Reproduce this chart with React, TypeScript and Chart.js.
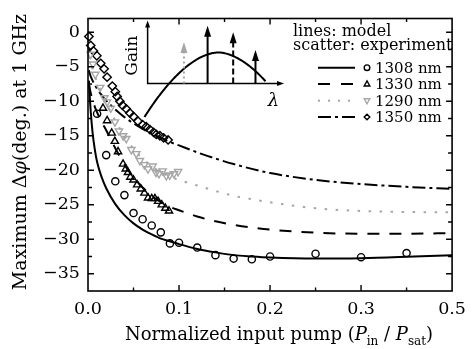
import React, { useEffect, useRef } from 'react';
import { Chart, registerables } from 'chart.js';
Chart.register(...registerables);

const FONT = "'DejaVu Serif', serif";

// x tick labels at 0, 0.1, 0.2, 0.3, 0.4 (axis positions) as printed in the figure
const xTickLabels = ['0.0', '0.1', '0.2', '0.3', '0.5'];
const yTickValues = [0, -5, -10, -15, -20, -25, -30, -35];

// Model curves (lines)
const modelX = [0.001, 0.002, 0.003, 0.005, 0.0075, 0.01, 0.015, 0.02, 0.03, 0.04, 0.05, 0.06, 0.07, 0.08, 0.09, 0.1, 0.12, 0.14, 0.16, 0.18, 0.2, 0.25, 0.3, 0.35, 0.4];
const model1308 = [-7.0, -9.5, -11.5, -14.5, -17.0, -18.8, -21.0, -22.6, -24.9, -26.5, -27.7, -28.6, -29.3, -29.9, -30.3, -30.7, -31.4, -31.9, -32.3, -32.5, -32.65, -32.8, -32.75, -32.55, -32.3];
const model1330 = [-7.5, -8.2, -8.8, -9.8, -10.8, -11.6, -13.0, -14.2, -16.8, -19.2, -21.0, -22.5, -23.7, -24.6, -25.3, -25.8, -26.7, -27.4, -27.9, -28.3, -28.6, -29.05, -29.2, -29.2, -29.1];
const model1290 = [-3.5, -4.0, -4.5, -5.3, -6.3, -7.2, -8.8, -10.2, -12.8, -15.0, -16.9, -18.3, -19.4, -20.3, -20.9, -21.4, -22.2, -23.0, -23.7, -24.2, -24.65, -25.5, -25.9, -26.05, -26.1];
const model1350 = [-5.5, -6.0, -6.4, -7.0, -7.6, -8.2, -9.1, -9.9, -11.2, -12.3, -13.2, -14.0, -14.7, -15.3, -15.9, -16.4, -17.4, -18.3, -19.1, -19.8, -20.4, -21.4, -22.0, -22.4, -22.7];

// Experiment (scatter)
const exp1308X = [0.01, 0.02, 0.03, 0.04, 0.05, 0.06, 0.07, 0.08, 0.09, 0.1, 0.12, 0.14, 0.16, 0.18, 0.2, 0.25, 0.3, 0.35];
const exp1308Y = [-11.8, -17.8, -21.6, -23.6, -26.2, -27.1, -28.0, -29.0, -30.6, -30.5, -31.2, -32.3, -32.8, -32.9, -32.5, -32.1, -32.6, -32.0];

const exp1330X = [0.0165, 0.021, 0.026, 0.0295, 0.033, 0.0385, 0.0415, 0.044, 0.0465, 0.05, 0.054, 0.058, 0.062, 0.066, 0.07, 0.0735, 0.077, 0.081, 0.085, 0.089];
const exp1330Y = [-11.0, -12.8, -14.6, -15.8, -17.3, -19.1, -19.8, -20.3, -21.0, -21.4, -22.1, -22.7, -23.3, -24.0, -24.1, -24.1, -24.5, -25.0, -25.5, -25.9];

const exp1290X = [0.003, 0.0055, 0.008, 0.0133, 0.018, 0.021, 0.025, 0.0296, 0.034, 0.0386, 0.042, 0.0476, 0.053, 0.057, 0.062, 0.066, 0.071, 0.0747, 0.078, 0.082, 0.086, 0.0898, 0.0945, 0.099];
const exp1290Y = [-3.2, -4.6, -6.1, -8.0, -9.5, -10.1, -11.0, -13.0, -14.3, -15.0, -15.4, -17.0, -17.6, -18.6, -19.2, -19.8, -19.4, -20.3, -20.5, -20.1, -20.8, -20.7, -20.5, -20.2];

const exp1350X = [0.001, 0.003, 0.006, 0.0097, 0.014, 0.0177, 0.021, 0.0267, 0.03, 0.032, 0.035, 0.038, 0.042, 0.046, 0.05, 0.055, 0.06, 0.064, 0.068, 0.072, 0.075, 0.079, 0.083, 0.088];
const exp1350Y = [-0.6, -1.9, -2.7, -3.4, -4.5, -5.3, -6.5, -7.8, -8.6, -9.3, -10.0, -10.6, -11.1, -11.7, -12.2, -12.9, -13.4, -13.7, -14.1, -14.5, -14.8, -15.0, -15.3, -15.6];

const seriesLabels = ['1308 nm', '1330 nm', '1290 nm', '1350 nm'];
const legendHeader = ['lines: model', 'scatter: experiment'];

const GRAY = '#a6a6a6';

function pts(xs: number[], ys: number[]) {
  return xs.map((x, i) => ({ x, y: ys[i] }));
}

function drawMarker(ctx: CanvasRenderingContext2D, kind: string, x: number, y: number, r: number, color: string) {
  ctx.save();
  ctx.strokeStyle = color;
  ctx.lineWidth = 1.4;
  ctx.setLineDash([]);
  ctx.beginPath();
  if (kind === 'circle') {
    ctx.arc(x, y, r, 0, Math.PI * 2);
  } else if (kind === 'up') {
    ctx.moveTo(x, y - r * 1.1);
    ctx.lineTo(x + r, y + r * 0.7);
    ctx.lineTo(x - r, y + r * 0.7);
    ctx.closePath();
  } else if (kind === 'down') {
    ctx.moveTo(x, y + r * 1.1);
    ctx.lineTo(x + r, y - r * 0.7);
    ctx.lineTo(x - r, y - r * 0.7);
    ctx.closePath();
  } else {
    ctx.moveTo(x, y - r);
    ctx.lineTo(x + r, y);
    ctx.lineTo(x, y + r);
    ctx.lineTo(x - r, y);
    ctx.closePath();
  }
  ctx.stroke();
  ctx.restore();
}

const decorPlugin = {
  id: 'decor',
  afterDraw(chart: any) {
    const ctx: CanvasRenderingContext2D = chart.ctx;
    const xs = chart.scales.x;
    const ys = chart.scales.y;
    const { left, right, top, bottom } = chart.chartArea;
    ctx.save();
    ctx.strokeStyle = '#000';
    ctx.fillStyle = '#000';
    ctx.lineWidth = 1.4;
    ctx.setLineDash([]);
    // inward ticks on all sides
    for (const t of xs.ticks) {
      const v = t.value;
      const px = xs.getPixelForValue(v);
      if (px < left + 1 || px > right - 1) continue;
      const major = Math.abs(v / 0.1 - Math.round(v / 0.1)) < 1e-6;
      const len = major ? 6 : 3.5;
      ctx.beginPath();
      ctx.moveTo(px, bottom); ctx.lineTo(px, bottom - len);
      ctx.moveTo(px, top); ctx.lineTo(px, top + len);
      ctx.stroke();
    }
    for (const t of ys.ticks) {
      const v = t.value;
      const py = ys.getPixelForValue(v);
      if (py < top + 1 || py > bottom - 1) continue;
      const major = Math.abs(v / 5 - Math.round(v / 5)) < 1e-6;
      const len = major ? 6 : 4;
      ctx.beginPath();
      ctx.moveTo(left, py); ctx.lineTo(left + len, py);
      ctx.moveTo(right, py); ctx.lineTo(right - len, py);
      ctx.stroke();
    }
    ctx.lineWidth = 1.6;
    ctx.strokeRect(left, top, right - left, bottom - top);

    // ---- x title with subscripts ----
    const big = `18px ${FONT}`;
    const bigI = `italic 18px ${FONT}`;
    const small = `12px ${FONT}`;
    const segs: [string, string, number][] = [
      ['Normalized input pump (', big, 0],
      ['P', bigI, 0],
      ['in', small, 5],
      [' / ', big, 0],
      ['P', bigI, 0],
      ['sat', small, 5],
      [')', big, 0],
    ];
    let total = 0;
    for (const s of segs) { ctx.font = s[1]; total += ctx.measureText(s[0]).width; }
    let cx = 279 - total / 2;
    ctx.textBaseline = 'alphabetic';
    ctx.textAlign = 'left';
    for (const s of segs) {
      ctx.font = s[1];
      ctx.fillText(s[0], cx, 340 + s[2]);
      cx += ctx.measureText(s[0]).width;
    }

    // ---- y title rotated ----
    const ysegs: [string, string][] = [
      ['Maximum \u0394', `19px ${FONT}`],
      ['\u03c6', `italic 19px ${FONT}`],
      ['(deg.) at 1 GHz', `19px ${FONT}`],
    ];
    let ytot = 0;
    for (const s of ysegs) { ctx.font = s[1]; ytot += ctx.measureText(s[0]).width; }
    ctx.save();
    ctx.translate(26, 152);
    ctx.rotate(-Math.PI / 2);
    let yx = -ytot / 2;
    for (const s of ysegs) {
      ctx.font = s[1];
      ctx.fillText(s[0], yx, 0);
      yx += ctx.measureText(s[0]).width;
    }
    ctx.restore();

    // ---- legend ----
    ctx.font = `16px ${FONT}`;
    ctx.fillText(legendHeader[0], 293, 36);
    ctx.fillText(legendHeader[1], 293, 50);
    const rowsY = [67.7, 84, 100.7, 117];
    const styles = [
      { dash: [] as number[], color: '#000', marker: 'circle' },
      { dash: [12, 11], color: '#000', marker: 'up' },
      { dash: [2, 8], color: GRAY, marker: 'down' },
      { dash: [13, 4, 3, 4], color: '#000', marker: 'diamond' },
    ];
    styles.forEach((st, i) => {
      const y = rowsY[i];
      ctx.save();
      ctx.strokeStyle = st.color;
      ctx.lineWidth = 2;
      ctx.setLineDash(st.dash);
      ctx.beginPath();
      ctx.moveTo(318, y); ctx.lineTo(355, y);
      ctx.stroke();
      ctx.restore();
      drawMarker(ctx, st.marker, 367, y, 2.8, st.color);
      ctx.fillStyle = '#000';
      ctx.font = `15px ${FONT}`;
      ctx.fillText(seriesLabels[i], 375, y + 5.2);
    });

    // ---- inset schematic (in data coordinates of the main axes) ----
    const X = (v: number) => xs.getPixelForValue(v);
    const Y = (v: number) => ys.getPixelForValue(v);
    const ax0 = 0.0655, ayBase = -7.43, ayTop = 1.7, axRight = 0.2154;
    const arrowHead = (x: number, yTip: number, w: number, h: number, color: string) => {
      ctx.save();
      ctx.fillStyle = color;
      ctx.beginPath();
      ctx.moveTo(x, yTip);
      ctx.lineTo(x + w / 2, yTip + h);
      ctx.lineTo(x - w / 2, yTip + h);
      ctx.closePath();
      ctx.fill();
      ctx.restore();
    };
    ctx.save();
    ctx.strokeStyle = '#000';
    ctx.lineWidth = 1.5;
    ctx.setLineDash([]);
    ctx.beginPath();
    ctx.moveTo(X(ax0), Y(ayTop) + 4);
    ctx.lineTo(X(ax0), Y(ayBase));
    ctx.lineTo(X(axRight) - 4, Y(ayBase));
    ctx.stroke();
    arrowHead(X(ax0), Y(ayTop), 5, 7, '#000');
    ctx.beginPath();
    ctx.moveTo(X(axRight), Y(ayBase));
    ctx.lineTo(X(axRight) - 7, Y(ayBase) - 2.5);
    ctx.lineTo(X(axRight) - 7, Y(ayBase) + 2.5);
    ctx.closePath();
    ctx.fill();
    // gain curve
    const peakX = 0.1432, peakY = -2.92, halfW = 0.0541, drop = 4.51;
    ctx.lineWidth = 2;
    ctx.beginPath();
    let first = true;
    for (let v = 0.062; v <= 0.1955; v += 0.001) {
      const d = Math.abs(v - peakX) / halfW;
      const yv = peakY - drop * Math.pow(d, 1.8);
      if (first) { ctx.moveTo(X(v), Y(yv)); first = false; } else ctx.lineTo(X(v), Y(yv));
    }
    ctx.stroke();
    // wavelength arrows
    const arrows = [
      { x: 0.1054, tip: -1.41, color: GRAY, dash: [2, 3] },
      { x: 0.1314, tip: 0.94, color: '#000', dash: [] as number[] },
      { x: 0.1595, tip: 0.0, color: '#000', dash: [6, 3] },
      { x: 0.184, tip: -2.58, color: '#000', dash: [] as number[] },
    ];
    for (const a of arrows) {
      ctx.save();
      ctx.strokeStyle = a.color;
      ctx.lineWidth = 2;
      ctx.setLineDash(a.dash);
      ctx.beginPath();
      ctx.moveTo(X(a.x), Y(ayBase));
      ctx.lineTo(X(a.x), Y(a.tip) + 8);
      ctx.stroke();
      ctx.restore();
      arrowHead(X(a.x), Y(a.tip), 7, 11, a.color);
    }
    ctx.restore();
    // inset labels
    ctx.save();
    ctx.fillStyle = '#000';
    ctx.font = `17px ${FONT}`;
    ctx.translate(X(0.0476) + 6, Y(-3.38));
    ctx.rotate(-Math.PI / 2);
    ctx.textAlign = 'center';
    ctx.fillText('Gain', 0, 0);
    ctx.restore();
    ctx.save();
    ctx.fillStyle = '#000';
    ctx.font = `italic 18px ${FONT}`;
    ctx.textAlign = 'center';
    ctx.fillText('\u03bb', X(0.2038), Y(-9.86) + 6);
    ctx.restore();

    ctx.restore();
  },
};

function buildTicks(min: number, max: number, step: number) {
  const out: { value: number }[] = [];
  const n = Math.round((max - min) / step);
  for (let i = 0; i <= n; i++) out.push({ value: +(min + i * step).toFixed(6) });
  return out;
}

export default function App() {
  const ref = useRef<HTMLCanvasElement>(null);
  useEffect(() => {
    if (!ref.current) return;
    const lineDs = (label: string, ys: number[], color: string, dash: number[]) => ({
      type: 'line' as const,
      label,
      data: pts(modelX, ys),
      borderColor: color,
      borderWidth: 2,
      borderDash: dash,
      pointRadius: 0,
      showLine: true,
      fill: false,
      cubicInterpolationMode: 'monotone' as const,
      order: 2,
    });
    const scatDs = (label: string, xs: number[], ys: number[], color: string, style: any, rot: number, r: number) => ({
      type: 'scatter' as const,
      label,
      data: pts(xs, ys),
      borderColor: color,
      backgroundColor: 'rgba(0,0,0,0)',
      borderWidth: 1.4,
      pointStyle: style,
      rotation: rot,
      pointRadius: r,
      showLine: false,
      clip: false,
      order: 1,
    });
    const chart = new Chart(ref.current, {
      type: 'scatter',
      data: {
        datasets: [
          scatDs('exp 1308', exp1308X, exp1308Y, '#000', 'circle', 0, 3.6),
          scatDs('exp 1330', exp1330X, exp1330Y, '#000', 'triangle', 0, 4.2),
          scatDs('exp 1290', exp1290X, exp1290Y, GRAY, 'triangle', 180, 4.2),
          scatDs('exp 1350', exp1350X, exp1350Y, '#000', 'rectRot', 0, 4.2),
          lineDs('model 1308', model1308, '#000', []),
          lineDs('model 1330', model1330, '#000', [12, 10]),
          lineDs('model 1290', model1290, GRAY, [2.5, 8.5]),
          lineDs('model 1350', model1350, '#000', [13, 4, 3, 4]),
        ] as any,
      },
      options: {
        animation: false,
        responsive: false,
        devicePixelRatio: 1,
        layout: { padding: { top: 11, right: 17, left: 0, bottom: 0 } },
        plugins: { legend: { display: false }, tooltip: { enabled: false } },
        scales: {
          x: {
            type: 'linear',
            min: 0,
            max: 0.4,
            grid: { display: false, drawTicks: false },
            border: { display: false },
            afterBuildTicks: (s: any) => { s.ticks = buildTicks(0, 0.4, 0.05); },
            ticks: {
              padding: 8,
              maxRotation: 0,
              autoSkip: false,
              color: '#000',
              font: { family: FONT, size: 17.5 },
              callback: (v: any) => {
                const n = Number(v) / 0.1;
                if (Math.abs(n - Math.round(n)) > 1e-6) return '';
                return xTickLabels[Math.round(n)] ?? '';
              },
            },
            afterFit: (s: any) => { s.height = 58; },
          },
          y: {
            type: 'linear',
            min: -37.5,
            max: 2,
            grid: { display: false, drawTicks: false },
            border: { display: false },
            afterBuildTicks: (s: any) => { s.ticks = buildTicks(-37.5, 0, 2.5); },
            ticks: {
              padding: 8,
              autoSkip: false,
              color: '#000',
              font: { family: FONT, size: 17.5 },
              callback: (v: any) => {
                const n = Number(v);
                const hit = yTickValues.find((t) => Math.abs(t - n) < 1e-6);
                if (hit === undefined) return '';
                return hit < 0 ? '\u2212' + Math.abs(hit) : String(hit);
              },
            },
            afterFit: (s: any) => { s.width = 88; },
          },
        },
      },
      plugins: [decorPlugin],
    });
    return () => chart.destroy();
  }, []);
  return (
    <div style={{ position: 'absolute', left: 0, top: 0, width: 474, height: 349, background: '#fff' }}>
      <canvas ref={ref} width={474} height={349} />
    </div>
  );
}
